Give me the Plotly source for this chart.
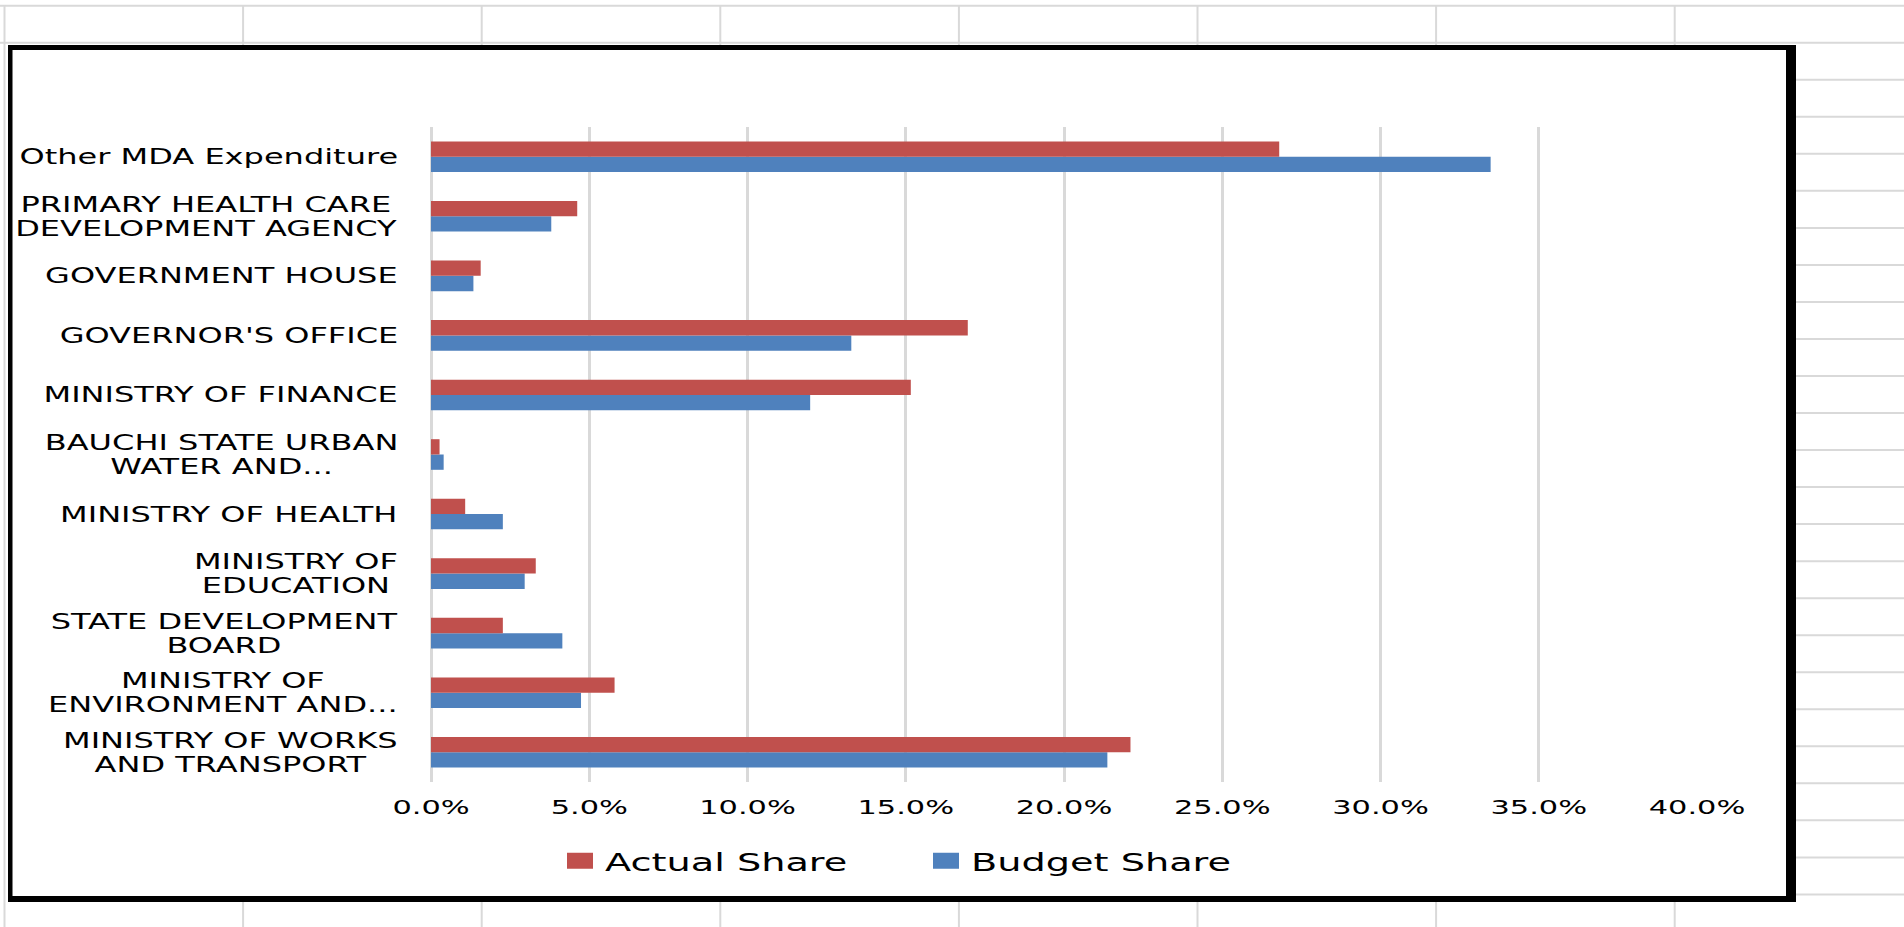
import plotly.graph_objects as go

# ---------------- data (Excel order: bottom -> top) ----------------
categories = [
    "MINISTRY OF WORKS AND TRANSPORT",
    "MINISTRY OF ENVIRONMENT AND...",
    "STATE DEVELOPMENT BOARD",
    "MINISTRY OF EDUCATION",
    "MINISTRY OF HEALTH",
    "BAUCHI STATE URBAN WATER AND...",
    "MINISTRY OF FINANCE",
    "GOVERNOR'S OFFICE",
    "GOVERNMENT HOUSE",
    "PRIMARY HEALTH CARE DEVELOPMENT AGENCY",
    "Other MDA Expenditure",
]
category_labels = [
    "MINISTRY OF WORKS<br>AND TRANSPORT",
    "MINISTRY OF<br>ENVIRONMENT AND...",
    "STATE DEVELOPMENT<br>BOARD",
    "MINISTRY OF<br>EDUCATION",
    "MINISTRY OF HEALTH",
    "BAUCHI STATE URBAN<br>WATER AND...",
    "MINISTRY OF FINANCE",
    "GOVERNOR'S OFFICE",
    "GOVERNMENT HOUSE",
    "PRIMARY HEALTH CARE<br>DEVELOPMENT AGENCY",
    "Other MDA Expenditure",
]
actual_share = [0.2210, 0.0580, 0.0227, 0.0331, 0.0108, 0.0027, 0.1516, 0.1696, 0.0157, 0.0462, 0.2680]
budget_share = [0.2137, 0.0474, 0.0415, 0.0296, 0.0227, 0.0040, 0.1198, 0.1328, 0.0134, 0.0380, 0.3348]
x_range = [0.0, 0.40]
x_dtick = 0.05

# ---------------- layout geometry ----------------
W, H = 1904, 927
L, R, T, B = 431, 207, 127, 145
PW = W - L - R
PH = H - T - B
FONT = "DejaVu Sans"
GRID = "#d9d9d9"


def px(x):
    return (x - L) / PW


def py(y):
    return (H - B - y) / PH


shapes = []


def hline(y, x0, x1, w=2):
    shapes.append(dict(type="line", xref="paper", yref="paper",
                       x0=px(x0), x1=px(x1), y0=py(y), y1=py(y),
                       line=dict(color=GRID, width=w), layer="below"))


def vline(x, y0, y1, w=2):
    shapes.append(dict(type="line", xref="paper", yref="paper",
                       x0=px(x), x1=px(x), y0=py(y0), y1=py(y1),
                       line=dict(color=GRID, width=w), layer="below"))


def block(x0, y0, x1, y1, color="black"):
    shapes.append(dict(type="rect", xref="paper", yref="paper",
                       x0=px(x0), x1=px(x1), y0=py(y0), y1=py(y1),
                       fillcolor=color, line=dict(width=0), layer="above"))


# spreadsheet cells behind the chart object
row_top, row_h = 5.7, 37.03
for k in range(25):
    yy = row_top + k * row_h
    if yy < 45:
        hline(yy, 0, W)
    else:
        hline(yy, 1796, W)
col_left, col_w = 4.5, 238.6
for k in range(8):
    xx = col_left + k * col_w
    if k == 0:
        vline(xx, row_top, H)
    else:
        vline(xx, row_top, 45)
        vline(xx, 902, H)

# chart-object frame (thick black border)
block(8, 45, 1796, 50)
block(8, 896, 1796, 902)
block(8, 45, 12.5, 902)
block(1786, 45, 1796, 902)

fig = go.Figure()
fig.add_trace(go.Bar(y=categories, x=budget_share, orientation="h",
                     name="Budget Share", marker=dict(color="#4F81BD", line=dict(width=0))))
fig.add_trace(go.Bar(y=categories, x=actual_share, orientation="h",
                     name="Actual Share", marker=dict(color="#C0504D", line=dict(width=0))))

annotations = []
for cat, lab in zip(categories, category_labels):
    annotations.append(dict(x=0, xref="paper", y=cat, yref="y", text=lab,
                            showarrow=False, xanchor="right", yanchor="middle",
                            align="center", xshift=-31,
                            font=dict(family=FONT, size=21.5, color="black")))

fig.update_layout(
    width=W, height=H,
    margin=dict(l=L, r=R, t=T, b=B, pad=0),
    paper_bgcolor="white", plot_bgcolor="white",
    barmode="group", bargap=0.486, bargroupgap=0,
    font=dict(family=FONT, color="black"),
    xaxis=dict(range=x_range, dtick=x_dtick, tick0=0, tickformat=".1%",
               showgrid=True, gridcolor=GRID, gridwidth=3,
               zeroline=True, zerolinecolor=GRID, zerolinewidth=3,
               showline=False, ticks="", ticklabelstandoff=11,
               tickfont=dict(family=FONT, size=20, color="black"),
               fixedrange=True),
    yaxis=dict(type="category", showticklabels=False, showgrid=False,
               zeroline=False, showline=False, ticks="", fixedrange=True),
    showlegend=True,
    legend=dict(orientation="h", traceorder="reversed",
                x=px(555), xanchor="left", y=py(861), yanchor="middle",
                font=dict(family=FONT, size=25, color="black"),
                itemwidth=40,
                entrywidth=311, entrywidthmode="pixels",
                bgcolor="rgba(0,0,0,0)"),
    shapes=shapes,
    annotations=annotations,
)

# The reference image is a horizontally stretched Excel chart: widen the glyphs the same way,
# and use Excel's tighter line spacing for wrapped category labels.
post = """
document.body.style.margin = '0';
document.body.style.padding = '0';
document.body.style.overflow = 'hidden';
var gd = document.getElementById('{plot_id}');
gd.querySelectorAll('text.annotation-text').forEach(function(t){
  var lines = t.querySelectorAll('tspan.line');
  if (lines.length > 1) {
    var fs = parseFloat(window.getComputedStyle(t).fontSize) || 21.5;
    lines.forEach(function(l, i){ l.setAttribute('dy', (i * 1.13) + 'em'); });
    var shift = (1.3 - 1.13) * fs * (lines.length - 1) / 2;
    var tr = t.getAttribute('transform') || '';
    t.setAttribute('transform', tr + ' translate(0,' + shift + ')');
  }
});
function stretch(sel, s, mode){
  gd.querySelectorAll(sel).forEach(function(t){
    var b = t.getBBox();
    var ax = b.x;
    if (mode === 'r') { ax = b.x + b.width; }
    else if (mode === 'c') { ax = b.x + b.width / 2; }
    var tr = t.getAttribute('transform') || '';
    t.setAttribute('transform', tr + ' translate(' + ax + ',0) scale(' + s + ',1) translate(' + (-ax) + ',0)');
  });
}
stretch('text.annotation-text', 1.49, 'r');
stretch('g.xtick text', 1.52, 'c');
stretch('g.legend text.legendtext', 1.53, 'l');
gd.querySelectorAll('g.legend g.legendpoints path').forEach(function(p){
  p.setAttribute('d', 'M13,8H-13V-8H13Z');
});
"""

fig.write_html("out.html", post_script=post, config={"displayModeBar": False, "responsive": False})
